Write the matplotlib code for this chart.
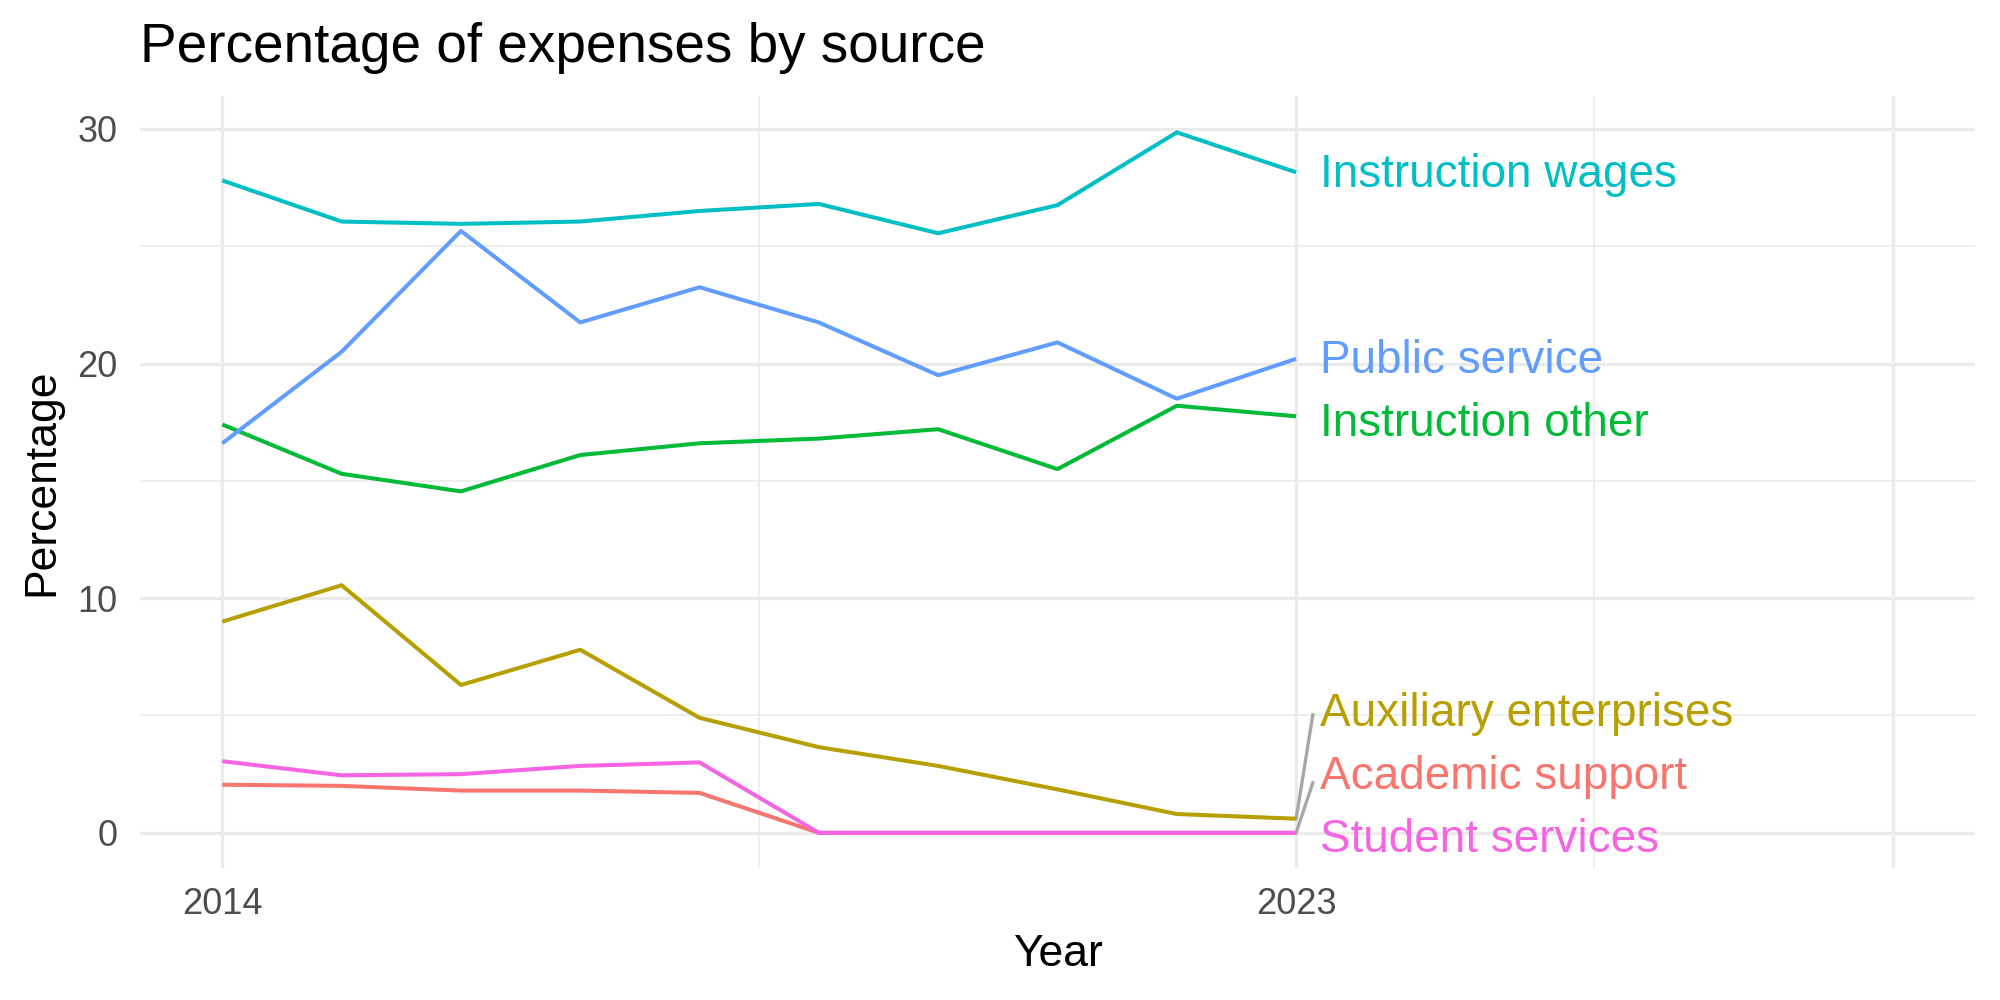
import matplotlib
matplotlib.use("Agg")
import matplotlib.pyplot as plt
import numpy as np

plt.rcParams['font.family'] = ['Liberation Sans', 'DejaVu Sans']

years = [2014, 2015, 2016, 2017, 2018, 2019, 2020, 2021, 2022, 2023]
series_names = ["Academic support", "Auxiliary enterprises", "Instruction other",
                "Instruction wages", "Public service", "Student services"]
academic_support = [2.05, 2.0, 1.8, 1.8, 1.7, 0, 0, 0, 0, 0]
auxiliary_enterprises = [9.0, 10.55, 6.3, 7.8, 4.9, 3.65, 2.85, 1.85, 0.8, 0.6]
instruction_other = [17.4, 15.3, 14.55, 16.1, 16.6, 16.8, 17.2, 15.5, 18.2, 17.75]
instruction_wages = [27.8, 26.05, 25.95, 26.05, 26.5, 26.8, 25.55, 26.75, 29.85, 28.15]
public_service = [16.6, 20.5, 25.65, 21.75, 23.25, 21.75, 19.5, 20.9, 18.5, 20.2]
student_services = [3.05, 2.45, 2.5, 2.85, 3.0, 0, 0, 0, 0, 0]
x_tick_values = [2014, 2023]
x_tick_labels = ["2014", "2023"]
y_tick_values = [0, 10, 20, 30]

series = [academic_support, auxiliary_enterprises, instruction_other,
          instruction_wages, public_service, student_services]
colors = ["#F8766D", "#B79F00", "#00BA38", "#00BFC4", "#619CFF", "#F564E3"]

# label placement (repelled positions), layout only
label_x = 2023.2
label_y = {"Academic support": 2.38, "Auxiliary enterprises": 5.05, "Instruction other": 17.43,
           "Instruction wages": 28.03, "Public service": 20.12, "Student services": -0.32}
segment_end = {"Auxiliary enterprises": (2023.14, 5.03), "Academic support": (2023.14, 2.13)}

fig = plt.figure(figsize=(20, 10), dpi=100)
ax = fig.add_axes([0.07, 0.132, 0.9175, 0.772])

ax.set_xlim(2013.31, 2028.69)
ax.set_ylim(-1.5, 31.4)

# grid
for gx in [2014, 2023, 2028]:
    ax.axvline(gx, color="#EBEBEB", lw=2.4, zorder=0)
for gx in [2018.5, 2025.5]:
    ax.axvline(gx, color="#EBEBEB", lw=1.2, zorder=0)
for gy in y_tick_values:
    ax.axhline(gy, color="#EBEBEB", lw=2.4, zorder=0)
for gy in [5, 15, 25]:
    ax.axhline(gy, color="#EBEBEB", lw=1.2, zorder=0)

for name, vals, c in zip(series_names, series, colors):
    ax.plot(years, vals, color=c, lw=2.9, solid_capstyle='butt', zorder=3)
    if name in segment_end:
        ex, ey = segment_end[name]
        ax.plot([years[-1], ex], [vals[-1], ey], color="#A6A6A6", lw=2.4, zorder=2)
    ax.text(label_x, label_y[name], name, color=c, fontsize=33, va='center', ha='left')

for s in ax.spines.values():
    s.set_visible(False)

ax.set_xticks(x_tick_values)
ax.set_xticklabels(x_tick_labels)
ax.set_yticks(y_tick_values)
ax.tick_params(length=0, labelsize=26, labelcolor="#4D4D4D")
ax.tick_params(axis='x', pad=14)
ax.tick_params(axis='y', pad=16)

ax.set_xlabel("Year", fontsize=32, color="black", va='center')
ax.xaxis.set_label_coords(0.5, -0.112)
ax.set_ylabel("Percentage", fontsize=32, color="black", va='center')
ax.yaxis.set_label_coords(-0.0534, 0.5)

fig.text(0.07, 0.938, "Percentage of expenses by source", fontsize=39.5, ha='left', va='baseline')

fig.savefig("out.png", dpi=100, facecolor="white")
